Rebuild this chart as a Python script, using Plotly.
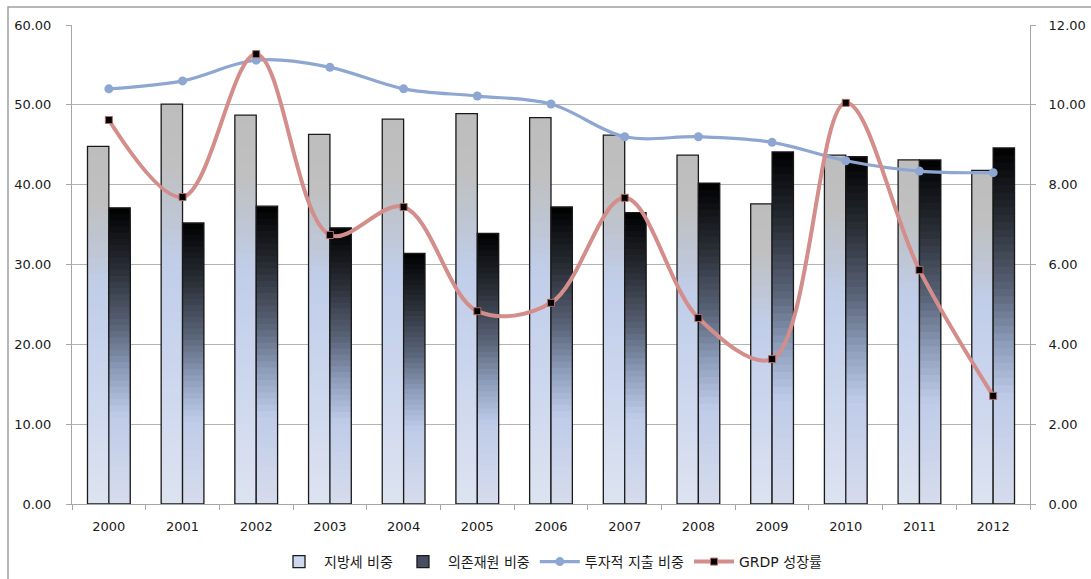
import plotly.graph_objects as go

years = ["2000", "2001", "2002", "2003", "2004", "2005", "2006",
         "2007", "2008", "2009", "2010", "2011", "2012"]
local_tax = [44.8, 50.1, 48.7, 46.3, 48.2, 48.9, 48.4, 46.2, 43.7, 37.6, 43.7, 43.1, 41.8]
dependent = [37.1, 35.2, 37.3, 34.6, 31.4, 33.9, 37.2, 36.5, 40.2, 44.1, 43.5, 43.1, 44.6]
invest = [52.0, 53.0, 55.6, 54.7, 52.0, 51.1, 50.1, 46.0, 46.0, 45.3, 43.0, 41.7, 41.5]
grdp = [9.62, 7.69, 11.27, 6.74, 7.44, 4.83, 5.04, 7.67, 4.66, 3.63, 10.05, 5.86, 2.71]

names = ["지방세 비중", "의존재원 비중", "투자적 지출 비중", "GRDP 성장률"]

light_stops = [(0.0, (221, 227, 240)), (0.3, (205, 215, 238)), (0.6, (193, 206, 233)),
               (0.75, (190, 196, 206)), (0.85, (192, 192, 192)), (1.0, (189, 189, 189))]
dark_stops = [(0.0, (214, 220, 236)), (0.3, (190, 203, 232)), (0.45, (140, 156, 185)),
              (0.6, (90, 100, 120)), (0.8, (40, 44, 52)), (1.0, (0, 0, 0))]


def interp(stops, t):
    for (t0, c0), (t1, c1) in zip(stops[:-1], stops[1:]):
        if t0 <= t <= t1:
            f = (t - t0) / (t1 - t0) if t1 > t0 else 0
            c = [round(a + (b - a) * f) for a, b in zip(c0, c1)]
            return f"rgb({c[0]},{c[1]},{c[2]})"
    c = stops[-1][1]
    return f"rgb({c[0]},{c[1]},{c[2]})"


BW = 0.29
N = 48
fig = go.Figure()


def add_gradient_bars(values, stops, offset, legend_name, legend_color):
    # draw from tallest (top colour) to shortest, each from 0, so no seams
    for k in range(N - 1, -1, -1):
        t = (k + 0.5) / N
        fig.add_trace(go.Bar(
            x=years, y=[v * (k + 1) / N for v in values],
            width=BW, offset=offset, marker=dict(color=interp(stops, t), line=dict(width=0)),
            showlegend=False, hoverinfo="skip"))
    fig.add_trace(go.Bar(
        x=years, y=values, width=BW, offset=offset,
        marker=dict(color="rgba(0,0,0,0)", line=dict(color="#1a1a1a", width=1.3)),
        showlegend=False, name=legend_name))
    fig.add_trace(go.Bar(
        x=years, y=[None] * len(years), width=BW, offset=offset, name=legend_name,
        marker=dict(color=legend_color, line=dict(color="#1a1a1a", width=1.3)),
        showlegend=True))


add_gradient_bars(local_tax, light_stops, -BW, names[0], "rgb(205,215,238)")
add_gradient_bars(dependent, dark_stops, 0.0, names[1], "rgb(70,78,98)")

fig.add_trace(go.Scatter(
    x=years, y=invest, name=names[2], mode="lines+markers",
    line=dict(color="#8ea6d2", width=3.2, shape="spline", smoothing=1.0),
    marker=dict(symbol="circle", size=9, color="#8ea6d2")))

fig.add_trace(go.Scatter(
    x=years, y=grdp, name=names[3], mode="lines+markers", yaxis="y2",
    line=dict(color="#d38e8c", width=4, shape="spline", smoothing=1.0),
    marker=dict(symbol="square", size=7, color="black", line=dict(color="#b06a68", width=1))))

L, R, T, B = 72, 61, 25, 75
W, H = 1091, 579
pw, ph = W - L - R, H - T - B

font = "DejaVu Sans, Noto Sans CJK KR, sans-serif"
fig.update_layout(
    width=W, height=H,
    margin=dict(l=L, r=R, t=T, b=B, autoexpand=False),
    barmode="overlay",
    plot_bgcolor="white", paper_bgcolor="white",
    font=dict(family=font, size=13, color="#1a1a1a"),
    xaxis=dict(type="category", showgrid=False, showline=True, linecolor="#a6a6a6",
               linewidth=1, ticks="outside", tickson="boundaries", ticklen=5,
               tickcolor="#a6a6a6", tickfont=dict(size=13), range=[-0.5, 12.5],
               ticklabelstandoff=10),
    yaxis=dict(range=[0, 60], dtick=10, tickformat=".2f", showgrid=True,
               gridcolor="#b4b4b4", gridwidth=1, showline=True, linecolor="#a6a6a6",
               ticks="outside", ticklen=5, tickcolor="#a6a6a6", zeroline=False,
               tickfont=dict(size=13), ticklabelstandoff=12),
    yaxis2=dict(range=[0, 12], dtick=2, tickformat=".2f", overlaying="y", side="right",
                showgrid=False, showline=True, linecolor="#a6a6a6", ticks="outside",
                ticklen=5, tickcolor="#a6a6a6", zeroline=False, tickfont=dict(size=13),
                ticklabelstandoff=10),
    legend=dict(orientation="h", x=0.5, xanchor="center", y=(504 - 562) / ph,
                yanchor="middle", font=dict(size=14), itemwidth=40,
                traceorder="normal", bgcolor="rgba(0,0,0,0)"),
    shapes=[dict(type="rect", xref="paper", yref="paper",
                 x0=(8 - L) / pw, x1=(1100 - L) / pw,
                 y0=(T + ph - 590) / ph, y1=(T + ph - 7) / ph,
                 line=dict(color="#a0a0a0", width=1.5), fillcolor="rgba(0,0,0,0)",
                 layer="below")],
)

fig.write_html("out.html")
